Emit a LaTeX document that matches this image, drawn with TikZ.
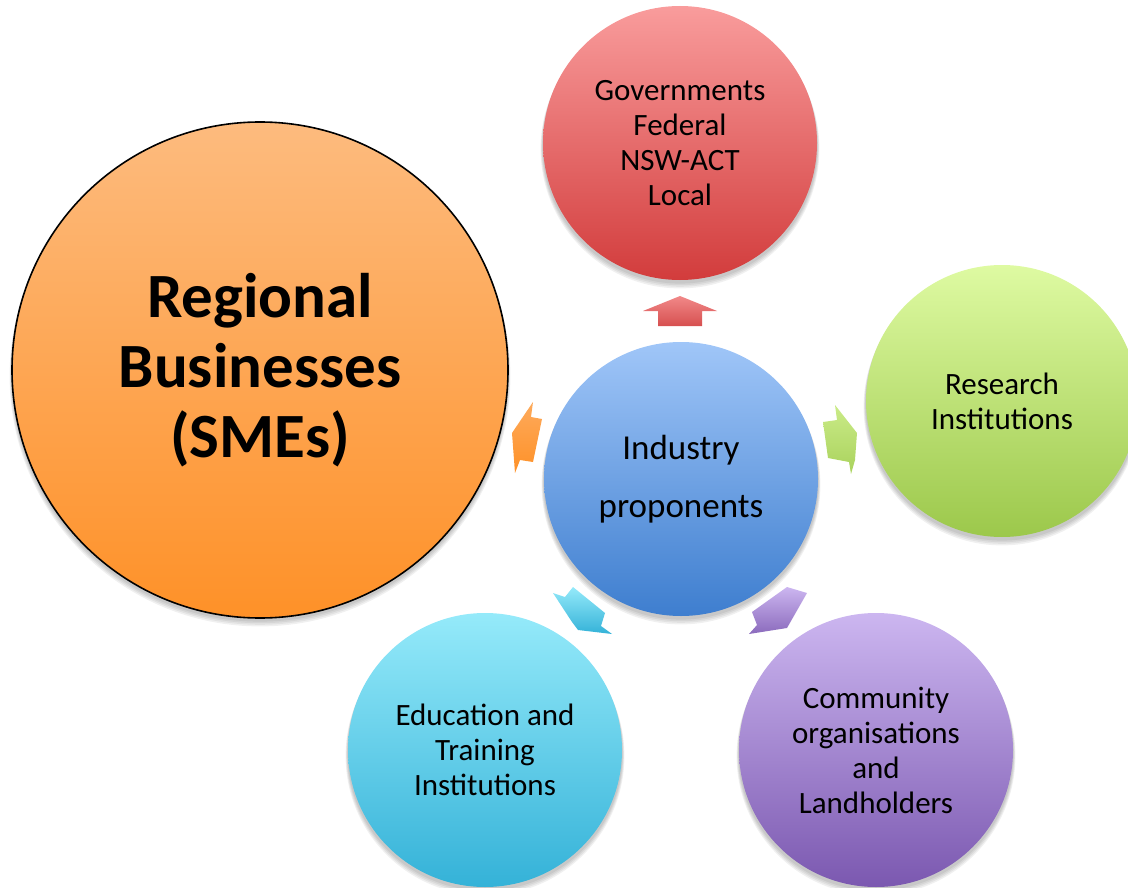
\documentclass[tikz,border=0pt]{standalone}
\usepackage{fontspec}
\setmainfont{Carlito}
\usetikzlibrary{shadings}
\definecolor{orT}{HTML}{FDBB7E}
\definecolor{orB}{HTML}{FE9128}
\definecolor{rdT}{HTML}{F99C9C}
\definecolor{rdB}{HTML}{D23C3C}
\definecolor{grT}{HTML}{DEFAA2}
\definecolor{grB}{HTML}{9CC84B}
\definecolor{blT}{HTML}{A0C6F8}
\definecolor{blB}{HTML}{3E7ECF}
\definecolor{cyT}{HTML}{95EAFA}
\definecolor{cyB}{HTML}{34B2D8}
\definecolor{puT}{HTML}{CCB6F0}
\definecolor{puB}{HTML}{7B58B0}
\tikzset{
  bubble/.style={circle, inner sep=0pt, align=center, text=black,
    font=\fontsize{31}{35}\selectfont},
  softshadow/.style={fill=black, fill opacity=0.06, draw=none},
  blockarrow/.style={draw=none}
}
\begin{document}
\begin{tikzpicture}[x=1pt,y=-1pt]
\useasboundingbox (0,0) rectangle (1128,888);
\begin{scope}
\clip (0,0) rectangle (1128,888);
% soft shadows
\foreach \cx/\cy/\r in {680/143/137, 1002/401/136, 681/479/137, 485/750/137, 876/750/137, 260/370/248}{
  \foreach \d in {1,2,3,4}{
    \fill[softshadow] (\cx,\cy+2+\d) circle[radius=\r+\d*0.6];
  }
}
% circles
\node[bubble, minimum size=496pt, top color=orT, bottom color=orB, draw=black, line width=1.6pt,
  font=\fontsize{63}{70}\selectfont\bfseries] (sme) at (260,370) {Regional\\Businesses\\(SMEs)};
\node[bubble, minimum size=274pt, top color=rdT, bottom color=rdB] (gov) at (680,143)
  {Governments\\Federal\\NSW-ACT\\Local};
\node[bubble, minimum size=272pt, top color=grT, bottom color=grB] (res) at (1002,401)
  {Research\\Institutions};
\node[bubble, minimum size=274pt, top color=blT, bottom color=blB,
  font=\fontsize{35}{58}\selectfont] (ind) at (681,479) {Industry\\proponents};
\node[bubble, minimum size=274pt, top color=cyT, bottom color=cyB] (edu) at (485,750)
  {Education and\\Training\\Institutions};
\node[bubble, minimum size=274pt, top color=puT, bottom color=puB] (com) at (876,750)
  {Community\\organisations\\and\\Landholders};
% block arrows
\shade[blockarrow, top color=rdT!80!rdB, bottom color=rdB!90!white]
  (680,296) -- (643,311) -- (658,311) -- (658,326) -- (702,326) -- (702,311) -- (717,311) -- cycle;
\shade[blockarrow, top color=orT!60!orB, bottom color=orB]
  (533,402) -- (531,417) -- (542,419) -- (533,462) -- (520,460) -- (515,473) -- (512,433) -- cycle;
\shade[blockarrow, top color=grT!70!grB, bottom color=grB!80!grT]
  (835,405) -- (857,433) -- (855,460) -- (851,474) -- (849,462) -- (828,458) -- (823,422) -- (837,420) -- cycle;
\shade[blockarrow, top color=cyT, bottom color=cyB]
  (553,593) -- (565,597) -- (573,587) -- (605,613) -- (601,626) -- (612,634) -- (578,630) -- (572,622) -- cycle;
\shade[blockarrow, top color=puT, bottom color=puB!80!puT]
  (807,593) -- (787,587) -- (752,612) -- (757,625) -- (749,634) -- (787,628) -- cycle;
\end{scope}
\end{tikzpicture}
\end{document}
